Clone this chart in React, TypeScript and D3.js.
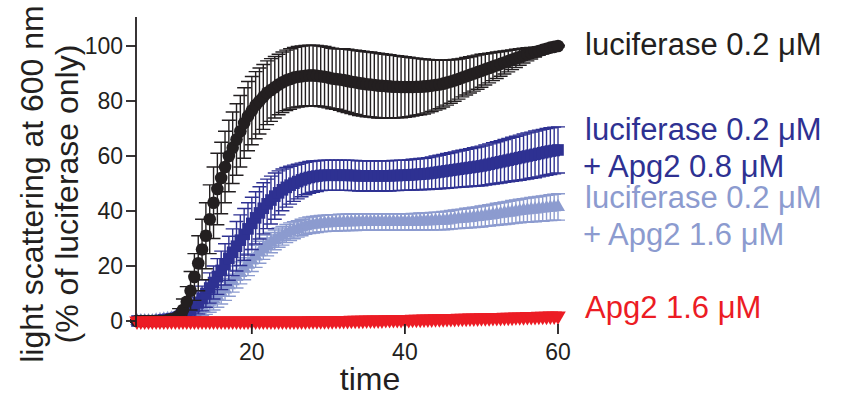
import React from 'react'
import * as d3 from 'd3'

// sampling grid (minutes)
const TIMES = d3.range(5, 60.01, 0.5)

const lucMean = [
  0, 0, 0, 0, 0, 0, 0, 0, 0.3, 0.6,
  1, 2, 4, 7, 11, 16, 21, 26, 31, 37,
  43, 48, 52, 56, 60, 63, 66, 69, 72, 74.5,
  76.5, 78.5, 80, 81.5, 83, 84, 85, 86, 86.8, 87.5,
  88, 88.5, 88.8, 89, 89.2, 89.3, 89.3, 89.2, 89, 88.8,
  88.5, 88.2, 88, 87.8, 87.6, 87.3, 87, 86.8, 86.5, 86.3,
  86.1, 86, 85.8, 85.6, 85.5, 85.4, 85.3, 85.2, 85.2, 85.1,
  85.1, 85.1, 85.1, 85.2, 85.2, 85.3, 85.4, 85.6, 85.8, 86,
  86.3, 86.7, 87.1, 87.5, 88, 88.5, 89, 89.5, 90, 90.5,
  91, 91.5, 92, 92.5, 93, 93.5, 94, 94.5, 95, 95.5,
  96, 96.5, 97, 97.4, 97.8, 98.2, 98.6, 99, 99.4, 99.7,
  100,
]
const lucErr = [
  0.5, 0.5, 0.5, 0.5, 0.5, 0.5, 0.5, 0.5, 0.8, 1,
  1.5, 2.5, 4, 5.5, 7, 8.5, 10, 11, 12, 12.5,
  13, 13, 13, 13, 13, 13, 13, 13, 12.8, 12.6,
  12.4, 12.2, 12, 11.8, 11.6, 11.4, 11.2, 11, 11, 11,
  11, 11, 11, 11, 11, 11, 11, 11, 11, 11,
  11, 11, 11, 11.2, 11.4, 11.5, 11.6, 11.7, 11.8, 11.8,
  11.8, 11.8, 11.8, 11.8, 11.7, 11.6, 11.5, 11.4, 11.3, 11.2,
  11, 10.8, 10.6, 10.4, 10.2, 10, 9.7, 9.4, 9.1, 8.8,
  8.5, 8.2, 7.9, 7.6, 7.3, 7, 6.8, 6.6, 6.4, 6.2,
  6, 5.7, 5.4, 5.1, 4.8, 4.5, 4.2, 3.9, 3.6, 3.3,
  3, 2.7, 2.4, 2.1, 1.8, 1.5, 1.2, 0.9, 0.6, 0.4,
  0.3,
]
const apg08Mean = [
  0, 0, 0, 0, 0, 0, 0.2, 0.4, 0.6, 0.8,
  1, 1.5, 2.2, 3, 4, 5.2, 6.6, 8.2, 10, 12,
  14, 16.2, 18.4, 20.6, 22.8, 25, 27.2, 29.4, 31.5, 33.5,
  35.5, 37.5, 39.3, 41, 42.6, 44, 45.4, 46.6, 47.7, 48.6,
  49.4, 50.1, 50.7, 51.3, 51.8, 52.2, 52.5, 52.7, 52.9, 53,
  53, 53, 53, 53, 53, 53, 52.9, 52.9, 52.8, 52.8,
  52.8, 52.8, 52.8, 52.8, 52.8, 52.8, 52.8, 52.9, 52.9, 53,
  53, 53.1, 53.2, 53.3, 53.4, 53.5, 53.6, 53.8, 54, 54.2,
  54.4, 54.6, 54.8, 55, 55.2, 55.4, 55.6, 55.8, 56, 56.2,
  56.4, 56.7, 57, 57.3, 57.6, 57.9, 58.2, 58.5, 58.8, 59.1,
  59.4, 59.7, 60, 60.3, 60.6, 60.9, 61.2, 61.5, 61.8, 62,
  62.2,
]
const apg08Err = [
  0.5, 0.5, 0.5, 0.5, 0.5, 0.5, 0.6, 0.7, 0.8, 0.9,
  1, 1.5, 2, 2.5, 3, 3.5, 4, 4.5, 5, 5.5,
  6, 6.5, 7, 7.5, 8, 8.5, 9, 9.2, 9.4, 9.5,
  9.5, 9.5, 9.5, 9.3, 9, 8.7, 8.4, 8, 7.6, 7.2,
  6.9, 6.6, 6.3, 6.1, 5.9, 5.8, 5.7, 5.6, 5.5, 5.5,
  5.5, 5.5, 5.5, 5.5, 5.5, 5.5, 5.5, 5.5, 5.5, 5.5,
  5.5, 5.5, 5.5, 5.5, 5.5, 5.5, 5.5, 5.5, 5.5, 5.5,
  5.5, 5.5, 5.6, 5.6, 5.7, 5.7, 5.8, 5.9, 6, 6.1,
  6.2, 6.3, 6.4, 6.5, 6.6, 6.7, 6.8, 6.9, 7, 7.1,
  7.2, 7.3, 7.4, 7.5, 7.6, 7.7, 7.8, 7.9, 8, 8.1,
  8.2, 8.3, 8.4, 8.4, 8.5, 8.5, 8.5, 8.5, 8.5, 8.5,
  8.4,
]
const apg16Mean = [
  0, 0, 0, 0, 0, 0.2, 0.4, 0.6, 0.8, 1,
  1.3, 1.7, 2.1, 2.6, 3.1, 3.7, 4.4, 5.2, 6, 7,
  8, 9, 10.2, 11.5, 13, 14.5, 16, 17.5, 19, 20.5,
  22, 23.5, 25, 26.3, 27.5, 28.5, 29.5, 30.3, 31, 31.8,
  32.5, 33, 33.5, 34, 34.5, 34.8, 35, 35.2, 35.4, 35.5,
  35.6, 35.7, 35.7, 35.8, 35.8, 35.9, 35.9, 35.9, 36, 36,
  36, 36, 36, 36, 36, 36, 36, 36, 36, 36,
  36, 36, 36.1, 36.1, 36.2, 36.2, 36.3, 36.3, 36.4, 36.4,
  36.5, 36.6, 36.8, 37, 37.1, 37.2, 37.4, 37.5, 37.7, 37.8,
  38, 38.2, 38.4, 38.6, 38.8, 39, 39.2, 39.4, 39.6, 39.8,
  40, 40.2, 40.3, 40.5, 40.6, 40.8, 40.9, 41.1, 41.2, 41.4,
  41.5,
]
const apg16Err = [
  0.5, 0.5, 0.5, 0.5, 0.5, 0.5, 0.6, 0.7, 0.8, 1,
  1.2, 1.5, 1.8, 2.1, 2.4, 2.7, 3, 3.3, 3.6, 3.8,
  4, 4, 4, 4, 4, 4, 4, 4, 4, 4,
  4, 4, 4, 3.9, 3.8, 3.7, 3.6, 3.5, 3.4, 3.3,
  3.2, 3.1, 3, 3, 3, 3, 3, 3, 3, 3,
  3, 3, 3, 3, 3, 3, 3, 3, 3, 3,
  3, 3, 3, 3, 3, 3, 3, 3, 3, 3,
  3, 3, 3, 3, 3.1, 3.1, 3.1, 3.2, 3.2, 3.2,
  3.3, 3.3, 3.4, 3.4, 3.5, 3.5, 3.6, 3.6, 3.7, 3.7,
  3.8, 3.8, 3.9, 3.9, 4, 4, 4.1, 4.1, 4.2, 4.2,
  4.3, 4.3, 4.4, 4.4, 4.5, 4.5, 4.6, 4.6, 4.7, 4.7,
  4.8,
]
const apgOnlyMean = [
  0, 0, 0, 0, 0, 0, 0, 0, 0, 0,
  0, 0, 0, 0, 0, 0, 0, 0, 0, 0,
  0, 0, 0, 0, 0, 0, 0, 0, 0, 0,
  0, 0, 0, 0, 0, 0, 0, 0, 0, 0,
  0, 0, 0, 0, 0, 0.1, 0.1, 0.1, 0.1, 0.1,
  0.1, 0.1, 0.2, 0.2, 0.2, 0.2, 0.3, 0.3, 0.3, 0.3,
  0.4, 0.4, 0.4, 0.4, 0.4, 0.5, 0.5, 0.5, 0.5, 0.5,
  0.5, 0.5, 0.6, 0.6, 0.6, 0.7, 0.7, 0.7, 0.8, 0.8,
  0.8, 0.9, 0.9, 0.9, 1, 1, 1, 1.1, 1.1, 1.1,
  1.2, 1.2, 1.2, 1.3, 1.3, 1.3, 1.4, 1.4, 1.4, 1.5,
  1.5, 1.5, 1.6, 1.6, 1.6, 1.7, 1.7, 1.7, 1.8, 1.8,
  1.8,
]

const yTicks = [0, 20, 40, 60, 80, 100]
const xTicks = [20, 40, 60]

const FONT = '"Liberation Sans", Arial, Helvetica, sans-serif'
const INK = '#231f20'

const xScale = d3.scaleLinear().domain([5, 60]).range([137, 558])
const yScale = d3.scaleLinear().domain([0, 100]).range([321, 46])

// drawn bottom -> top
const series = [
  {mean: apg16Mean, err: apg16Err, color: '#8c9bcf', symbol: d3.symbolTriangle, size: 85, rotate: 0},
  {mean: apg08Mean, err: apg08Err, color: '#2e3192', symbol: d3.symbolSquare, size: 135, rotate: 0},
  {mean: lucMean, err: lucErr, color: INK, symbol: d3.symbolCircle, size: 125, rotate: 0},
  {mean: apgOnlyMean, err: null, color: '#ec1c24', symbol: d3.symbolTriangle, size: 105, rotate: 180},
]

const App = () => {
  const cap = 7

  return (
    <svg width={844} height={396} style={{position: 'absolute', left: 0, top: 0, background: '#fff'}}>
      {series.map((s, si) => {
        const sym = d3.symbol().type(s.symbol).size(s.size)()
        return (
          <g key={si}>
            {s.err && TIMES.map((t, i) => {
              const x = xScale(t)
              const hi = yScale(s.mean[i] + s.err[i])
              const lo = yScale(s.mean[i] - s.err[i])
              return (
                <path key={'e' + i}
                  d={`M${x - cap},${hi}H${x + cap}M${x},${hi}V${lo}M${x - cap},${lo}H${x + cap}`}
                  stroke={s.color} strokeWidth={1.4} fill="none"/>
              )
            })}
            {TIMES.map((t, i) => (
              <path key={'m' + i} d={sym}
                transform={`translate(${xScale(t)},${yScale(s.mean[i])}) rotate(${s.rotate})`}
                fill={s.color}/>
            ))}
          </g>
        )
      })}

      {/* axes */}
      <g stroke={INK} strokeWidth={1.8} fill="none">
        <line x1={136} x2={136} y1={17} y2={327}/>
        {yTicks.map(v => (
          <line key={v} x1={126} x2={136} y1={yScale(v)} y2={yScale(v)}/>
        ))}
        {xTicks.map(v => (
          <line key={v} x1={xScale(v)} x2={xScale(v)} y1={324} y2={334}/>
        ))}
      </g>
      <g fontFamily={FONT} fontSize={23} fill={INK}>
        {yTicks.map(v => (
          <text key={v} x={123} y={yScale(v)} textAnchor="end" dominantBaseline="central">{v}</text>
        ))}
        {xTicks.map(v => (
          <text key={v} x={xScale(v)} y={360} textAnchor="middle">{v}</text>
        ))}
      </g>

      <g fontFamily={FONT} fontSize={32} fill={INK} textAnchor="middle">
        <text transform="translate(43,184) rotate(-90)">light scattering at 600 nm</text>
        <text transform="translate(78,194) rotate(-90)">(% of luciferase only)</text>
        <text x={370} y={390}>time</text>
      </g>

      {/* series labels */}
      <g fontFamily={FONT} fontSize={31}>
        <text x={585} y={55} fill={INK}>luciferase 0.2 μM</text>
        <text x={585} y={140} fill="#2e3192">luciferase 0.2 μM</text>
        <text x={583} y={177} fill="#2e3192">+ Apg2 0.8 μM</text>
        <text x={585} y={208} fill="#8c9bcf">luciferase 0.2 μM</text>
        <text x={583} y={245} fill="#8c9bcf">+ Apg2 1.6 μM</text>
        <text x={585} y={318} fill="#ec1c24">Apg2 1.6 μM</text>
      </g>
    </svg>
  )
}

export default App
